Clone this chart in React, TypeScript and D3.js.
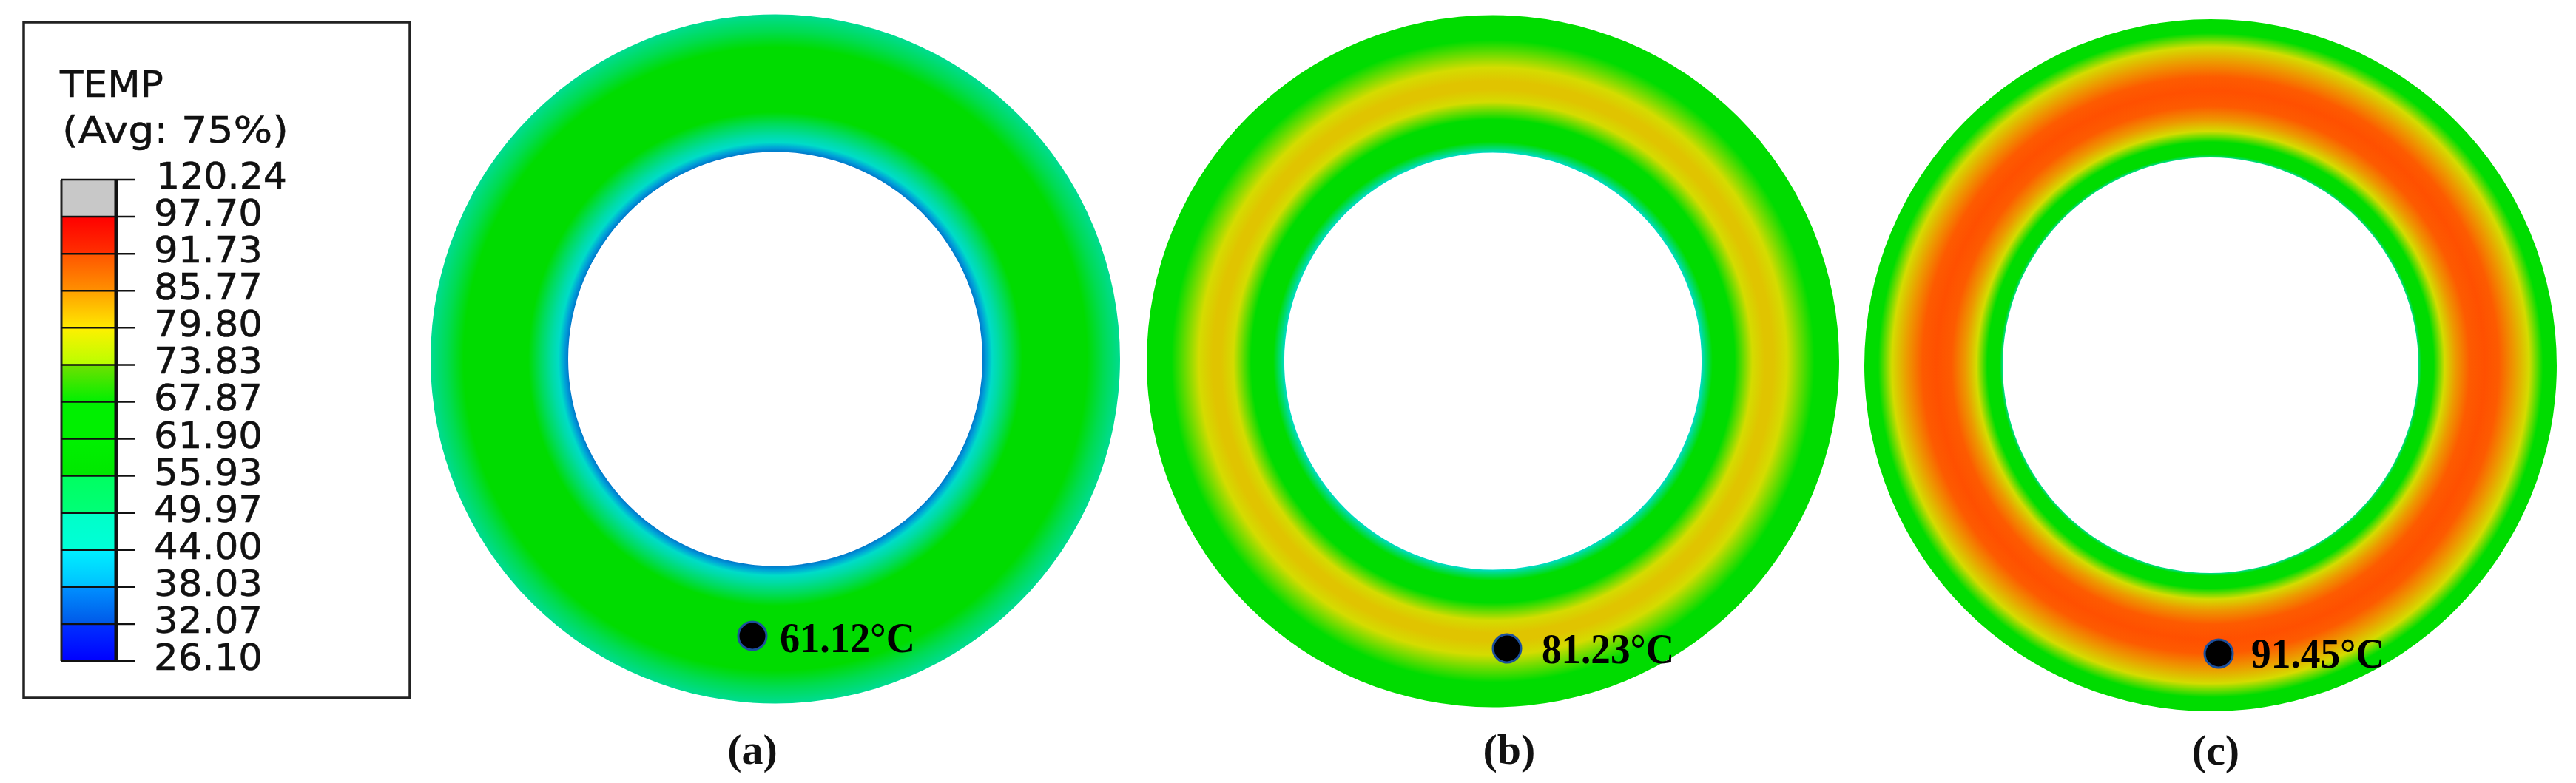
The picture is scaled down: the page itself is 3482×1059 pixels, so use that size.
import React from "react";
import * as d3 from "d3";

const W = 3482;
const H = 1059;

// Legend
const legendTitle = ["TEMP", "(Avg: 75%)"];
const legendLabels = ["120.24", "97.70", "91.73", "85.77", "79.80", "73.83", "67.87", "61.90", "55.93", "49.97", "44.00", "38.03", "32.07", "26.10"];
const bandTop = ["#c8c8c8", "#ff0000", "#ff5500", "#ffa000", "#fff000", "#70e000", "#00f000", "#00f000", "#00ff60", "#00ffc8", "#00f0ff", "#0090ff", "#0030ff"];
const bandBottom = ["#c8c8c8", "#ff3000", "#ff9000", "#ffe800", "#b8ff00", "#00f000", "#00f000", "#00e800", "#00ff78", "#00ffd8", "#00c0ff", "#0058e8", "#0000ff"];

// Rendered contour colour as a function of temperature
const tempStops = [26, 32, 38, 44, 50, 56, 68, 74, 77, 80, 86, 92, 98];
const tempColors = ["#0000dc", "#0070c8", "#00a0d8", "#00dcc8", "#00dc8c", "#00dc00", "#00dc00", "#a0dc00", "#d4dc00", "#e0c400", "#f09000", "#ff5000", "#ff0000"];

// Temperature through the wall: fraction from inner edge (0) to outer edge (1)
const ringNames = ["a", "b", "c"];
const ringFractionsA = [0, 0.03, 0.07, 0.12, 0.2, 0.29, 0.76, 0.88, 1];
const ringTempsA = [33, 38, 44, 47.5, 52, 56, 56, 52.5, 49.5];
const ringFractionsB = [0, 0.03, 0.08, 0.24, 0.37, 0.46, 0.52, 0.62, 0.82, 1];
const ringTempsB = [44, 51, 58, 68, 77, 80, 80, 77, 68, 60];
const ringFractionsC = [0, 0.02, 0.11, 0.19, 0.27, 0.37, 0.48, 0.58, 0.69, 0.8, 0.9, 1];
const ringTempsC = [50, 56, 68, 77, 85, 91, 92, 91, 85, 77, 68, 60];

// Ring geometry and annotations
const ringCx = [1048, 2018, 2988];
const ringCy = [485.5, 488.5, 494];
const ringOuter = [466, 468, 468];
const ringInner = [280, 282, 281];
const dotX = [1017, 2037, 2999];
const dotY = [860, 877, 884];
const probeText = ["61.12°C", "81.23°C", "91.45°C"];
const probeX = [1054, 2084, 3043];
const probeRight = [1237, 2263, 3223];
const probeY = [882, 897, 903];
const captions = ["(a)", "(b)", "(c)"];
const captionX = [1017, 2040, 2995];
const captionY = [1033, 1033, 1034];

const fractions = [ringFractionsA, ringFractionsB, ringFractionsC];
const temps = [ringTempsA, ringTempsB, ringTempsC];

const colorOf = d3.scaleLinear<string>().domain(tempStops).range(tempColors).interpolate(d3.interpolateRgb);
const legendY = d3.scaleLinear().domain([0, legendLabels.length - 1]).range([243, 894]);
const arc = d3.arc();
const legendSans = "'DejaVu Sans', sans-serif";
const serif = "'Liberation Serif', serif";

function Ring({ i }: { i: number }) {
  const id = `ring-${ringNames[i]}`;
  const ro = ringOuter[i];
  const ri = ringInner[i];
  const toRadius = d3.scaleLinear().domain([0, 1]).range([ri, ro]);
  const d = arc({ innerRadius: ri, outerRadius: ro, startAngle: 0, endAngle: 2 * Math.PI }) as string;
  return (
    <g>
      <radialGradient id={id} gradientUnits="userSpaceOnUse" cx={0} cy={0} r={ro}>
        {fractions[i].map((f, k) => (
          <stop key={k} offset={toRadius(f) / ro} stopColor={colorOf(temps[i][k])} />
        ))}
      </radialGradient>
      <path d={d} transform={`translate(${ringCx[i]},${ringCy[i]})`} fill={`url(#${id})`} />
      <circle cx={dotX[i]} cy={dotY[i]} r={19} fill="#000" stroke="#1c4f9c" strokeWidth={3} />
      <text x={probeX[i]} y={probeY[i]} fontFamily={serif} fontWeight="bold" fontSize={56} fill="#000"
        textLength={probeRight[i] - probeX[i]} lengthAdjust="spacingAndGlyphs">{probeText[i]}</text>
      <text x={captionX[i]} y={captionY[i]} textAnchor="middle" fontFamily={serif} fontWeight="bold" fontSize={58} fill="#111">{captions[i]}</text>
    </g>
  );
}

function Legend() {
  const x0 = 83;
  const x1 = 157;
  return (
    <g>
      <rect x={32} y={30} width={522} height={914} fill="#fff" stroke="#222" strokeWidth={3.5} />
      <text x={81} y={131} fontFamily={legendSans} fontSize={50} fill="#111" stroke="#111" strokeWidth={0.5} textLength={140} lengthAdjust="spacingAndGlyphs">{legendTitle[0]}</text>
      <text x={84} y={193} fontFamily={legendSans} fontSize={50} fill="#111" stroke="#111" strokeWidth={0.5} textLength={306} lengthAdjust="spacingAndGlyphs">{legendTitle[1]}</text>
      <defs>
        {bandTop.map((c, i) => (
          <linearGradient key={i} id={`band-${i}`} x1="0" y1="0" x2="0" y2="1">
            <stop offset="0" stopColor={c} />
            <stop offset="1" stopColor={bandBottom[i]} />
          </linearGradient>
        ))}
      </defs>
      {bandTop.map((_, i) => (
        <rect key={i} x={x0} y={legendY(i)} width={x1 - x0} height={legendY(i + 1) - legendY(i)} fill={`url(#band-${i})`} />
      ))}
      <line x1={x0} x2={x0} y1={legendY(0)} y2={legendY(13)} stroke="#222" strokeWidth={3} />
      <line x1={x1} x2={x1} y1={legendY(0)} y2={legendY(13)} stroke="#111" strokeWidth={5} />
      {legendLabels.map((t, i) => (
        <g key={t}>
          <line x1={x0} x2={182} y1={legendY(i)} y2={legendY(i)} stroke="#111" strokeWidth={2.5} />
          <text x={i === 0 ? 211 : 208} y={legendY(i) + 12} fontFamily={legendSans} fontSize={50} fill="#111" stroke="#111" strokeWidth={0.5}
            textLength={i === 0 ? 177 : 147} lengthAdjust="spacingAndGlyphs">{t}</text>
        </g>
      ))}
    </g>
  );
}

export default function App() {
  return (
    <svg width={W} height={H} viewBox={`0 0 ${W} ${H}`} style={{ position: "absolute", left: 0, top: 0, display: "block", background: "#fff" }}>
      <Legend />
      {ringNames.map((_, i) => <Ring key={i} i={i} />)}
    </svg>
  );
}
